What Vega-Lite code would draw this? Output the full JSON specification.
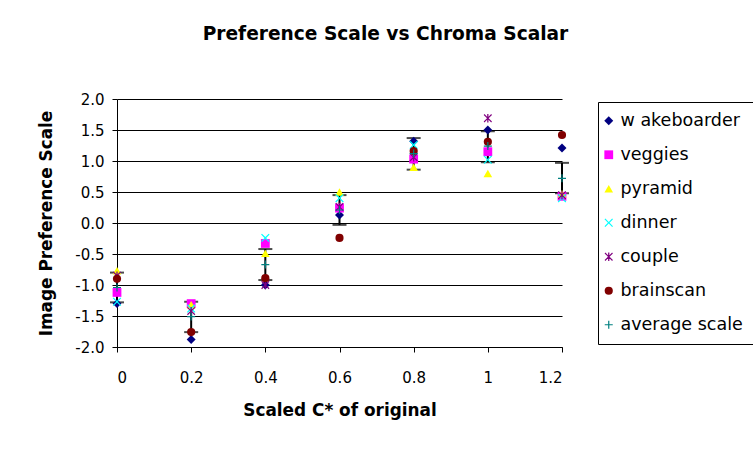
{
  "$schema": "https://vega.github.io/schema/vega-lite/v6.json",
  "width": 445,
  "height": 248,
  "autosize": "none",
  "padding": {"left": 117, "top": 99, "right": 191, "bottom": 106},
  "background": "white",
  "title": {"text": "Preference Scale vs Chroma Scalar", "fontSize": 18.6, "fontWeight": "bold", "color": "black", "anchor": "middle", "dx": 46, "offset": 48, "font": "DejaVu Sans"},
  "datasets": {
    "points": [
      {"x": 0, "series": "w akeboarder", "value": -1.30},
      {"x": 0, "series": "veggies", "value": -1.12},
      {"x": 0, "series": "pyramid", "value": -0.77},
      {"x": 0, "series": "dinner", "value": -1.27},
      {"x": 0, "series": "couple", "value": -0.85},
      {"x": 0, "series": "brainscan", "value": -0.90},
      {"x": 0.2, "series": "w akeboarder", "value": -1.88},
      {"x": 0.2, "series": "veggies", "value": -1.30},
      {"x": 0.2, "series": "pyramid", "value": -1.32},
      {"x": 0.2, "series": "dinner", "value": -1.38},
      {"x": 0.2, "series": "couple", "value": -1.42},
      {"x": 0.2, "series": "brainscan", "value": -1.76},
      {"x": 0.4, "series": "w akeboarder", "value": -1.00},
      {"x": 0.4, "series": "veggies", "value": -0.33},
      {"x": 0.4, "series": "pyramid", "value": -0.49},
      {"x": 0.4, "series": "dinner", "value": -0.24},
      {"x": 0.4, "series": "couple", "value": -1.00},
      {"x": 0.4, "series": "brainscan", "value": -0.89},
      {"x": 0.6, "series": "w akeboarder", "value": 0.13},
      {"x": 0.6, "series": "veggies", "value": 0.24},
      {"x": 0.6, "series": "pyramid", "value": 0.50},
      {"x": 0.6, "series": "dinner", "value": 0.40},
      {"x": 0.6, "series": "couple", "value": 0.26},
      {"x": 0.6, "series": "brainscan", "value": -0.24},
      {"x": 0.8, "series": "w akeboarder", "value": 1.32},
      {"x": 0.8, "series": "veggies", "value": 1.03},
      {"x": 0.8, "series": "pyramid", "value": 0.90},
      {"x": 0.8, "series": "dinner", "value": 1.26},
      {"x": 0.8, "series": "couple", "value": 1.06},
      {"x": 0.8, "series": "brainscan", "value": 1.16},
      {"x": 1.0, "series": "w akeboarder", "value": 1.50},
      {"x": 1.0, "series": "veggies", "value": 1.15},
      {"x": 1.0, "series": "pyramid", "value": 0.80},
      {"x": 1.0, "series": "dinner", "value": 1.02},
      {"x": 1.0, "series": "couple", "value": 1.69},
      {"x": 1.0, "series": "brainscan", "value": 1.31},
      {"x": 1.2, "series": "w akeboarder", "value": 1.21},
      {"x": 1.2, "series": "veggies", "value": 0.43},
      {"x": 1.2, "series": "pyramid", "value": 0.47},
      {"x": 1.2, "series": "dinner", "value": 0.40},
      {"x": 1.2, "series": "couple", "value": 0.45},
      {"x": 1.2, "series": "brainscan", "value": 1.42},
      {"x": 0, "series": "average scale", "value": -1.04},
      {"x": 0.2, "series": "average scale", "value": -1.51},
      {"x": 0.4, "series": "average scale", "value": -0.67},
      {"x": 0.6, "series": "average scale", "value": 0.21},
      {"x": 0.8, "series": "average scale", "value": 1.12},
      {"x": 1.0, "series": "average scale", "value": 1.24},
      {"x": 1.2, "series": "average scale", "value": 0.72}
    ],
    "errs": [
      {"x": 0, "lo": -1.28, "hi": -0.80},
      {"x": 0.2, "lo": -1.76, "hi": -1.27},
      {"x": 0.4, "lo": -0.92, "hi": -0.42},
      {"x": 0.6, "lo": -0.03, "hi": 0.45},
      {"x": 0.8, "lo": 0.86, "hi": 1.37},
      {"x": 1.0, "lo": 0.98, "hi": 1.48},
      {"x": 1.2, "lo": 0.48, "hi": 0.97}
    ]
  },
  "layer": [
    {
      "data": {"name": "errs"},
      "mark": {"type": "rule", "color": "black", "strokeWidth": 2},
      "encoding": {
        "x": {"field": "x", "type": "quantitative", "scale": {"domain": [0, 1.2], "nice": false}, "title": "Scaled C* of original",
              "axis": {"values": [0, 0.2, 0.4, 0.6, 0.8, 1, 1.2], "format": "~g"}},
        "y": {"field": "lo", "type": "quantitative", "scale": {"domain": [-2, 2], "nice": false}, "title": "Image Preference Scale",
              "axis": {"values": [-2, -1.5, -1, -0.5, 0, 0.5, 1, 1.5, 2], "labelExpr": "replace(format(datum.value, '.1f'), '\u2212', '-')"}},
        "y2": {"field": "hi"}
      }
    },
    {
      "data": {"name": "errs"},
      "mark": {"type": "tick", "orient": "horizontal", "color": "black", "size": 14, "thickness": 2},
      "encoding": {
        "x": {"field": "x", "type": "quantitative", "title": "Scaled C* of original",
              "axis": {"values": [0, 0.2, 0.4, 0.6, 0.8, 1, 1.2], "format": "~g"}},
        "y": {"field": "lo", "type": "quantitative", "title": "Image Preference Scale",
              "axis": {"values": [-2, -1.5, -1, -0.5, 0, 0.5, 1, 1.5, 2], "labelExpr": "replace(format(datum.value, '.1f'), '\u2212', '-')"}}
      }
    },
    {
      "data": {"name": "errs"},
      "mark": {"type": "tick", "orient": "horizontal", "color": "black", "size": 14, "thickness": 2},
      "encoding": {
        "x": {"field": "x", "type": "quantitative", "title": "Scaled C* of original",
              "axis": {"values": [0, 0.2, 0.4, 0.6, 0.8, 1, 1.2], "format": "~g"}},
        "y": {"field": "hi", "type": "quantitative", "title": "Image Preference Scale",
              "axis": {"values": [-2, -1.5, -1, -0.5, 0, 0.5, 1, 1.5, 2], "labelExpr": "replace(format(datum.value, '.1f'), '\u2212', '-')"}}
      }
    },
    {
      "data": {"name": "points"},
      "mark": {"type": "point", "filled": true, "opacity": 1, "strokeWidth": 0},
      "encoding": {
        "x": {"field": "x", "type": "quantitative", "title": "Scaled C* of original",
              "axis": {"values": [0, 0.2, 0.4, 0.6, 0.8, 1, 1.2], "format": "~g"}},
        "y": {"field": "value", "type": "quantitative", "title": "Image Preference Scale",
              "axis": {"values": [-2, -1.5, -1, -0.5, 0, 0.5, 1, 1.5, 2], "labelExpr": "replace(format(datum.value, '.1f'), '\u2212', '-')"}},
        "color": {
          "field": "series", "type": "nominal",
          "scale": {"domain": ["w akeboarder", "veggies", "pyramid", "dinner", "couple", "brainscan", "average scale"],
                    "range": ["#000080", "#FF00FF", "#FFFF00", "#00FFFF", "#800080", "#800000", "#008080"]},
          "legend": {"title": null}
        },
        "shape": {
          "field": "series", "type": "nominal",
          "scale": {"domain": ["w akeboarder", "veggies", "pyramid", "dinner", "couple", "brainscan", "average scale"],
                    "range": ["diamond", "square", "triangle-up",
                              "M-1,-0.8L-0.8,-1L0,-0.2L0.8,-1L1,-0.8L0.2,0L1,0.8L0.8,1L0,0.2L-0.8,1L-1,0.8L-0.2,0Z",
                              "M-1,-0.8L-0.8,-1L0,-0.2L0.8,-1L1,-0.8L0.2,0L1,0.8L0.8,1L0,0.2L-0.8,1L-1,0.8L-0.2,0ZM-0.15,-1L0.15,-1L0.15,1L-0.15,1Z",
                              "circle",
                              "M-1,-0.15H-0.15V-1H0.15V-0.15H1V0.15H0.15V1H-0.15V0.15H-1Z"]},
          "legend": {"title": null}
        },
        "size": {
          "field": "series", "type": "nominal",
          "scale": {"domain": ["w akeboarder", "veggies", "pyramid", "dinner", "couple", "brainscan", "average scale"],
                    "range": [80, 64, 90, 80, 80, 90, 180]},
          "legend": {"title": null}
        }
      }
    }
  ],
  "config": {
    "font": "DejaVu Sans",
    "view": {"stroke": null},
    "axis": {
      "domainColor": "black", "tickColor": "black", "labelColor": "black", "titleColor": "black",
      "labelFontSize": 15, "titleFontSize": 16.9, "titleFontWeight": "bold", "tickSize": 5,
      "labelFont": "DejaVu Sans", "titleFont": "DejaVu Sans", "labelOverlap": false
    },
    "axisY": {
      "grid": true, "gridColor": "black", "gridOpacity": 1, "gridWidth": 1,
      "labelPadding": 8, "titlePadding": 19
    },
    "axisX": {
      "grid": false,
      "labelPadding": 18, "titlePadding": 17
    },
    "legend": {
      "orient": "none", "legendX": 481, "legendY": 3,
      "padding": 10, "rowPadding": 15, "labelFontSize": 17.5, "labelFont": "DejaVu Sans",
      "labelColor": "black", "labelOffset": 3, "symbolOffset": -8,
      "strokeColor": "black", "fillColor": "white"
    }
  }
}
